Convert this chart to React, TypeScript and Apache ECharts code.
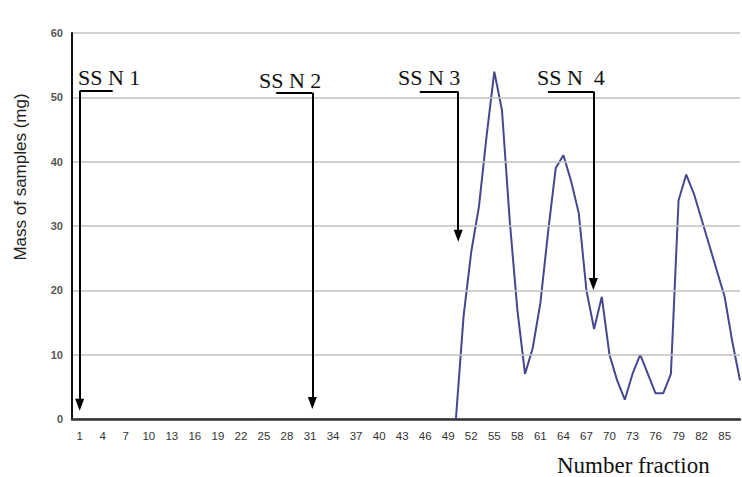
import React, { useEffect, useRef } from "react";
import * as echarts from "echarts";

const fractions = [
  1, 2, 3, 4, 5, 6, 7, 8, 9, 10, 11, 12, 13, 14, 15, 16, 17, 18, 19, 20,
  21, 22, 23, 24, 25, 26, 27, 28, 29, 30, 31, 32, 33, 34, 35, 36, 37, 38, 39, 40,
  41, 42, 43, 44, 45, 46, 47, 48, 49, 50, 51, 52, 53, 54, 55, 56, 57, 58, 59, 60,
  61, 62, 63, 64, 65, 66, 67, 68, 69, 70, 71, 72, 73, 74, 75, 76, 77, 78, 79, 80,
  81, 82, 83, 84, 85, 86, 87,
];

const mass = [
  0, 0, 0, 0, 0, 0, 0, 0, 0, 0, 0, 0, 0, 0, 0, 0, 0, 0, 0, 0,
  0, 0, 0, 0, 0, 0, 0, 0, 0, 0, 0, 0, 0, 0, 0, 0, 0, 0, 0, 0,
  0, 0, 0, 0, 0, 0, 0, 0, 0, 0, 16, 26, 33, 44, 54, 48, 31, 17, 7, 11,
  18, 29, 39, 41, 37, 32, 20, 14, 19, 10, 6, 3, 7, 10, 7, 4, 4, 7, 34, 38,
  35, 31, 27, 23, 19, 12, 6,
];

const xTickLabels = [1, 4, 7, 10, 13, 16, 19, 22, 25, 28, 31, 34, 37, 40, 43, 46, 49, 52, 55, 58, 61, 64, 67, 70, 73, 76, 79, 82, 85];

// annotation labels, the fraction each arrow points to, and the mass where the arrow tip ends
const annotationLabels = ["SS N 1", "SS N 2", "SS N 3", "SS N  4"];
const annotationFractions = [1, 31.3, 50.3, 67.9];
const annotationTips = [2.2, 2.5, 28.5, 21];
const annotationTops = [51.0, 50.7, 50.9, 50.9];
const annotationBracketStarts = [5.3, 26.6, 45.3, 62.0];

export default function App() {
  const ref = useRef<HTMLDivElement>(null);

  useEffect(() => {
    if (!ref.current) return;
    const chart = echarts.init(ref.current, null, { renderer: "svg" });

    const markData: any[] = [];
    annotationFractions.forEach((f, i) => {
      markData.push([
        { coord: [annotationBracketStarts[i], annotationTops[i]], symbol: "none" },
        { coord: [f, annotationTops[i]], symbol: "none" },
      ]);
      markData.push([
        { coord: [f, annotationTops[i]], symbol: "none" },
        { coord: [f, annotationTips[i]], symbol: "triangle", symbolSize: [9, 12] },
      ]);
    });

    const textPos = [
      [78, 78],
      [259, 81],
      [398, 78],
      [537, 78],
    ];

    chart.setOption({
      animation: false,
      backgroundColor: "#ffffff",
      grid: { left: 72, right: 2, top: 33, bottom: 58, containLabel: false },
      xAxis: {
        type: "value",
        min: 0,
        max: 87,
        z: 3,
        axisLine: { show: true, lineStyle: { color: "#333333", width: 2.5 } },
        axisTick: { show: false },
        splitLine: { show: false },
        axisLabel: {
          customValues: xTickLabels,
          color: "#333333",
          fontSize: 11.5,
          fontFamily: "Liberation Sans, Arial, sans-serif",
          margin: 11,
        },
      },
      yAxis: {
        type: "value",
        min: 0,
        max: 60,
        interval: 10,
        z: 3,
        axisLine: { show: true, lineStyle: { color: "#111111", width: 2 } },
        axisTick: { show: false },
        splitLine: { show: true, lineStyle: { color: "#c0c0c0", width: 1.5 } },
        axisLabel: {
          color: "#555555",
          fontSize: 11,
          fontWeight: "bold",
          fontFamily: "Liberation Sans, Arial, sans-serif",
          margin: 9,
        },
      },
      series: [
        {
          type: "line",
          data: fractions.map((f, i) => [f, mass[i]]),
          symbol: "none",
          z: 2,
          lineStyle: { color: "#47478f", width: 2 },
          markLine: {
            silent: true,
            symbol: ["none", "none"],
            label: { show: false },
            lineStyle: { color: "#000000", width: 2, type: "solid" },
            itemStyle: { color: "#000000" },
            emphasis: { disabled: true },
            data: markData,
          },
        },
      ],
      graphic: [
        ...annotationLabels.map((t, i) => ({
          type: "text",
          left: textPos[i][0],
          top: textPos[i][1] - 12,
          style: {
            text: t,
            fill: "#111111",
            font: "22px 'Liberation Serif', 'Times New Roman', serif",
          },
        })),
        {
          type: "text",
          left: 557,
          top: 454,
          style: {
            text: "Number fraction",
            fill: "#111111",
            font: "23px 'Liberation Serif', 'Times New Roman', serif",
          },
        },
        {
          type: "text",
          x: 20,
          y: 177,
          rotation: Math.PI / 2,
          style: {
            text: "Mass of samples (mg)",
            fill: "#222222",
            font: "17px 'Liberation Sans', Arial, sans-serif",
            align: "center",
            verticalAlign: "middle",
          },
        },
      ],
    });

    return () => chart.dispose();
  }, []);

  return (
    <div
      ref={ref}
      style={{ position: "fixed", left: 0, top: 0, width: 742, height: 477 }}
    />
  );
}
